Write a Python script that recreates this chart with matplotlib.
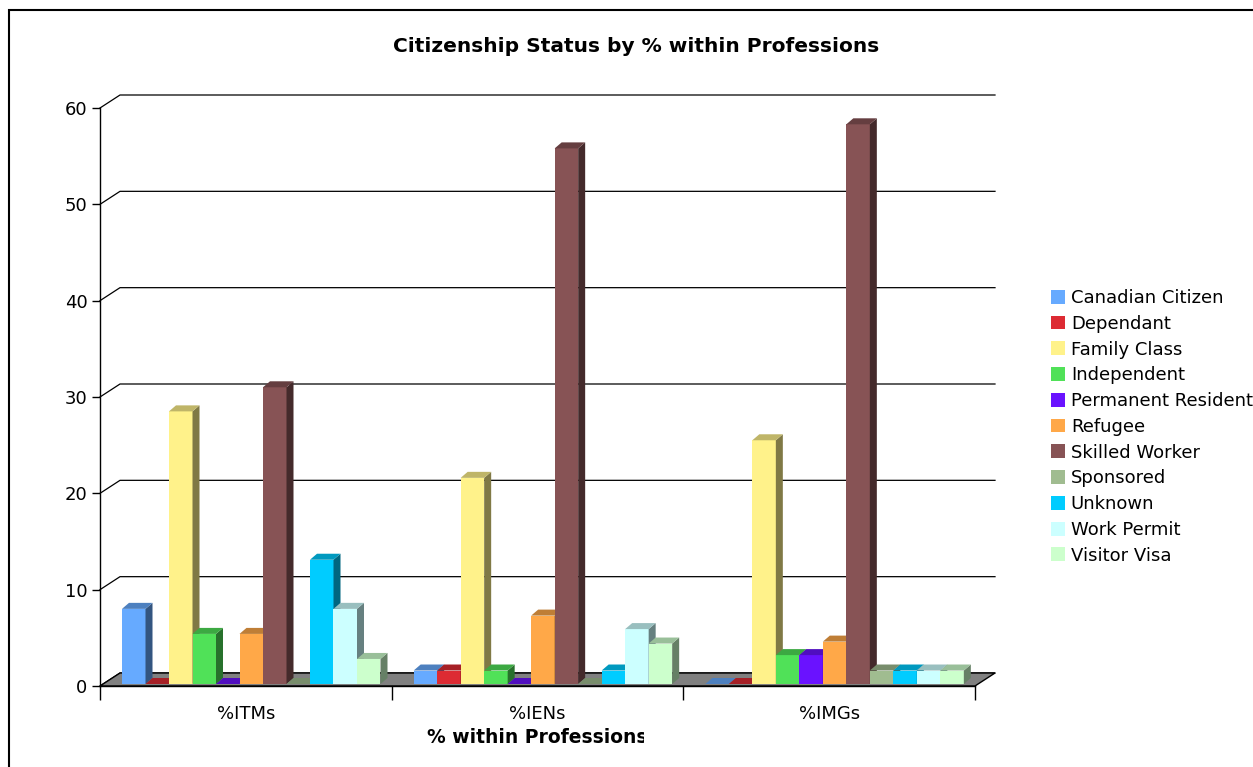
import numpy as np
import matplotlib
matplotlib.use("Agg")
import matplotlib.pyplot as plt
from matplotlib.patches import Polygon, Rectangle, Patch
from matplotlib.colors import to_rgb
from matplotlib.transforms import Bbox

# categories along the x axis
professions = ["%ITMs", "%IENs", "%IMGs"]

# citizenship status series (percent within each profession)
statuses = ["Canadian Citizen", "Dependant", "Family Class", "Independent",
            "Permanent Resident", "Refugee", "Skilled Worker", "Sponsored",
            "Unknown", "Work Permit", "Visitor Visa"]
canadian_citizen = [7.8, 1.4, 0.0]
dependant = [0.0, 1.4, 0.0]
family_class = [28.3, 21.4, 25.3]
independent = [5.2, 1.4, 3.0]
permanent_resident = [0.0, 0.0, 3.0]
refugee = [5.2, 7.1, 4.4]
skilled_worker = [30.8, 55.6, 58.1]
sponsored = [0.0, 0.0, 1.4]
unknown = [12.9, 1.4, 1.4]
work_permit = [7.8, 5.7, 1.4]
visitor_visa = [2.6, 4.2, 1.4]

series = [canadian_citizen, dependant, family_class, independent,
          permanent_resident, refugee, skilled_worker, sponsored,
          unknown, work_permit, visitor_visa]
colors = ["#66AAFF", "#DD2B33", "#FFF28A", "#50E158", "#6A12FF", "#FFA848",
          "#875355", "#A0BC90", "#00CCFF", "#CCFFFF", "#CCFFCC"]

yticks = [0, 10, 20, 30, 40, 50, 60]

W, H = 1253, 767
fig = plt.figure(figsize=(W / 100, H / 100), dpi=100)
ax = fig.add_axes([100 / W, (H - 686) / H, 875 / W, 578 / H])
ax.set_xlim(0, 3)
ax.set_ylim(0, 60)
ax.patch.set_visible(False)

# pixel -> data conversion for the pseudo 3d offsets
px = 3 / 875
py = 60 / 578
WX, WY = 20 * px, 13 * py      # back wall offset
BW = 23.5 * px                 # bar width
BX0 = 22 * px                  # first bar offset inside a group
DX, DY = 7 * px, 6 * py        # bar depth
BB = 2 * py                    # bar base lift


def shade(c, f):
    r, g, b = to_rgb(c)
    return (r * f, g * f, b * f)


# back wall grid lines
for v in yticks:
    ax.plot([0, WX, 3 + WX], [v, v + WY, v + WY], color="black", lw=0.9,
            clip_on=False, zorder=0.5)

# floor
floor = Polygon([(0, 0), (WX, WY), (3 + WX, WY), (3, 0)], closed=True,
                facecolor="#808080", edgecolor="black", lw=1.0,
                clip_on=False, zorder=1)
ax.add_patch(floor)

# bars
z = 3
for i in range(len(professions)):
    for k, (vals, c) in enumerate(zip(series, colors)):
        v = vals[i]
        x0 = i + BX0 + k * BW
        x1 = x0 + BW
        b = BB
        t = BB + v
        if v > 0:
            ax.add_patch(Rectangle((x0, b), BW, v, facecolor=c, edgecolor="none",
                                   clip_on=False, zorder=z))
            ax.add_patch(Polygon([(x1, b), (x1 + DX, b + DY), (x1 + DX, t + DY), (x1, t)],
                                 closed=True, facecolor=shade(c, 0.5),
                                 edgecolor="none", clip_on=False, zorder=z))
        ax.add_patch(Polygon([(x0, t), (x0 + DX, t + DY), (x1 + DX, t + DY), (x1, t)],
                             closed=True, facecolor=shade(c, 0.75),
                             edgecolor="none", clip_on=False, zorder=z))
        z += 0.01

# axes styling
for s in ["top", "right"]:
    ax.spines[s].set_visible(False)
ax.spines["left"].set_linewidth(1.0)
ax.spines["bottom"].set_linewidth(1.0)
ax.set_yticks(yticks)
ax.tick_params(axis="y", length=6, width=1, labelsize=13, pad=3)
ax.set_xticks([0, 1, 2, 3])
ax.set_xticklabels([])
ax.tick_params(axis="x", which="major", length=10, width=1, direction="out")
ax.set_xticks([0.5, 1.5, 2.5], minor=True)
ax.set_xticklabels(professions, minor=True, fontsize=13)
ax.tick_params(axis="x", which="minor", length=0, pad=14)
xl = ax.set_xlabel("% within Professions", fontsize=13.5, fontweight="bold",
                   labelpad=3)
# axis title box is narrower than the text, last letter gets cut
xl.set_clip_box(Bbox.from_extents(0, 0, 644, H))
xl.set_clip_on(True)

fig.text(636 / W, 1 - 46 / H, "Citizenship Status by % within Professions",
         ha="center", va="center", fontsize=14.5, fontweight="bold")

# legend
handles = [Patch(facecolor=c, edgecolor="none") for c in colors]
fig.legend(handles, statuses, loc="upper left",
           bbox_to_anchor=(1051 / W, 1 - 289 / H), frameon=False,
           fontsize=13, handlelength=0.8, handleheight=0.8,
           handletextpad=0.3, labelspacing=0.43, borderpad=0, borderaxespad=0)

# outer frame
fig.patches.append(Rectangle((9 / W, -0.1), 1.2, 1 - 10 / H + 0.1,
                             transform=fig.transFigure, fill=False,
                             edgecolor="black", lw=1.5, figure=fig))

fig.savefig("out.png", dpi=100)
